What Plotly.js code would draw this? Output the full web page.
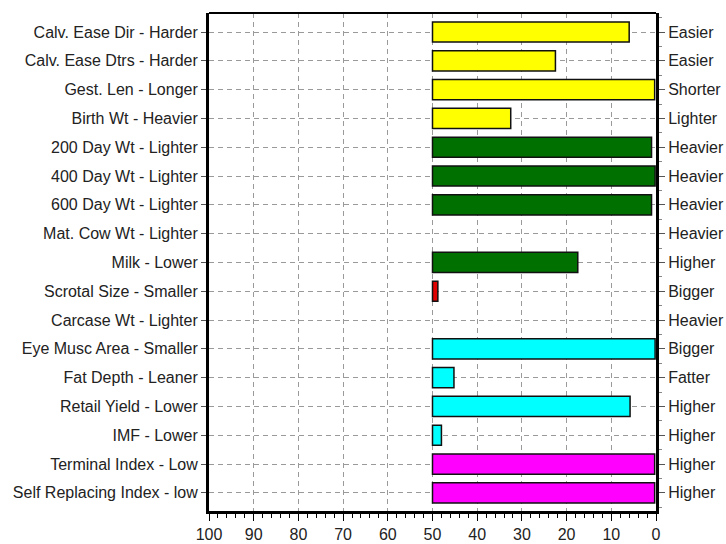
<!DOCTYPE html>
<html>
<head>
<meta charset="utf-8">
<script src="https://cdn.plot.ly/plotly-3.0.1.min.js"></script>
<style>html,body{margin:0;padding:0;background:#fff;}#chart{width:726px;height:544px;}</style>
</head>
<body>
<div id="chart"></div>
<script>
var leftLabels = [
  "Calv. Ease Dir - Harder", "Calv. Ease Dtrs - Harder", "Gest. Len - Longer", "Birth Wt - Heavier",
  "200 Day Wt - Lighter", "400 Day Wt - Lighter", "600 Day Wt - Lighter", "Mat. Cow Wt - Lighter",
  "Milk - Lower", "Scrotal Size - Smaller", "Carcase Wt - Lighter", "Eye Musc Area - Smaller",
  "Fat Depth - Leaner", "Retail Yield - Lower", "IMF - Lower", "Terminal Index - Low", "Self Replacing Index - low"
];
var rightLabels = [
  "Easier", "Easier", "Shorter", "Lighter", "Heavier", "Heavier", "Heavier", "Heavier",
  "Higher", "Bigger", "Heavier", "Bigger", "Fatter", "Higher", "Higher", "Higher", "Higher"
];
// percentile rank where the bar ends (null = no bar); bars start at 50
var values = [6, 22.5, 0.3, 32.5, 1, 0.2, 1, null, 17.5, 48.8, null, 0.2, 45.2, 5.8, 48, 0.3, 0.3];
var barColors = ["#FFFF00", "#FFFF00", "#FFFF00", "#FFFF00", "#007000", "#007000", "#007000", "#007000",
  "#007000", "#E00000", "#E00000", "#00FFFF", "#00FFFF", "#00FFFF", "#00FFFF", "#FF00FF", "#FF00FF"];
var baseValue = 50;
var xTicks = [100, 90, 80, 70, 60, 50, 40, 30, 20, 10, 0];

var idx = leftLabels.map(function (_, i) { return i; });
var widths = values.map(function (v) { return v === null ? null : v - baseValue; });

var yRange = [16.63, -0.66];

var traces = [
  {
    type: "bar", orientation: "h",
    y: idx, x: widths, base: baseValue, width: 0.7,
    marker: { color: barColors, line: { color: "#111", width: 1.5 } },
    hoverinfo: "skip", showlegend: false
  },
  {
    type: "scatter", mode: "markers", yaxis: "y2",
    y: idx, x: idx.map(function () { return null; }),
    hoverinfo: "skip", showlegend: false
  }
];

var fontFam = "Liberation Sans, Arial, sans-serif";
var gridDash = "5px,4px";
var layout = {
  width: 726, height: 544,
  margin: { l: 209, r: 70, t: 13, b: 33, pad: 0 },
  paper_bgcolor: "#fff", plot_bgcolor: "#fff",
  font: { family: fontFam, size: 16, color: "#222" },
  xaxis: {
    range: [100, 0], tickvals: xTicks, ticktext: xTicks.map(String),
    showgrid: true, gridcolor: "#9a9a9a", griddash: gridDash, gridwidth: 1,
    zeroline: false,
    showline: true, linecolor: "#000", linewidth: 3, mirror: false,
    ticks: "outside", ticklen: 7, tickcolor: "#000", tickwidth: 1,
    minor: { dtick: 2, ticks: "outside", ticklen: 4, tickcolor: "#000", showgrid: false },
    tickfont: { size: 16, color: "#222" }, fixedrange: true
  },
  yaxis: {
    range: yRange, tickvals: idx, ticktext: leftLabels,
    showgrid: true, gridcolor: "#9a9a9a", griddash: gridDash, gridwidth: 1,
    zeroline: false,
    showline: true, linecolor: "#000", linewidth: 3,
    ticks: "outside", ticklen: 5, tickcolor: "#555",
    tickfont: { size: 16, color: "#222" }, fixedrange: true
  },
  yaxis2: {
    overlaying: "y", side: "right", range: yRange, tickvals: idx, ticktext: rightLabels,
    showgrid: false, zeroline: false,
    showline: true, linecolor: "#000", linewidth: 3,
    ticks: "outside", ticklen: 6, tickcolor: "#555",
    minor: { dtick: 0.5, ticks: "outside", ticklen: 3, tickcolor: "#888", showgrid: false },
    tickfont: { size: 16, color: "#222" }, fixedrange: true
  },
  shapes: [
    { type: "line", xref: "paper", yref: "paper", x0: 0, x1: 1, y0: 1, y1: 1, line: { color: "#000", width: 2 } }
  ]
};

Plotly.newPlot("chart", traces, layout, { displayModeBar: false, staticPlot: true });
</script>
</body>
</html>
